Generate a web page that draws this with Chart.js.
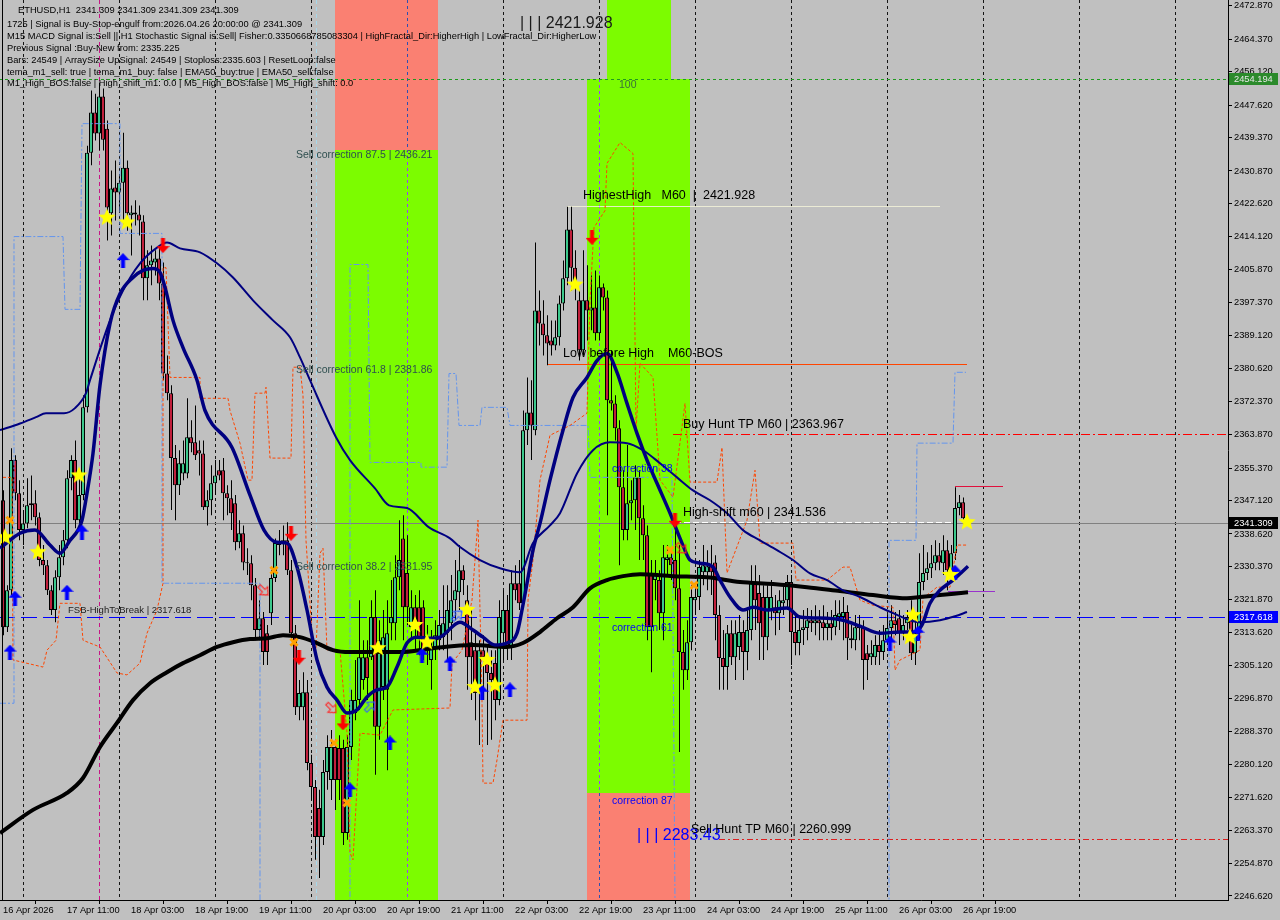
<!DOCTYPE html>
<html lang="en">
<head>
<meta charset="UTF-8">
<title>ETHUSD,H1</title>
<script src="https://cdn.jsdelivr.net/npm/chart.js"></script>
<style>
  html, body { margin: 0; padding: 0; background: #c0c0c0; }
  #wrap { width: 1280px; height: 920px; }
</style>
</head>
<body>
<div id="wrap"><canvas id="chart" width="1280" height="920"></canvas></div>
<script>
// ---------- axis labels ----------
const tickBars = [0, 16, 32, 48, 64, 80, 96, 112, 128, 144, 160, 176, 192, 208, 224, 240];
const tickLabels = ['16 Apr 2026', '17 Apr 11:00', '18 Apr 03:00', '18 Apr 19:00', '19 Apr 11:00',
  '20 Apr 03:00', '20 Apr 19:00', '21 Apr 11:00', '22 Apr 03:00', '22 Apr 19:00', '23 Apr 11:00',
  '24 Apr 03:00', '24 Apr 19:00', '25 Apr 11:00', '26 Apr 03:00', '26 Apr 19:00'];
const priceTicks = [2246.62, 2254.87, 2263.37, 2271.62, 2280.12, 2288.37, 2296.87, 2305.12, 2313.62,
  2321.87, 2330.37, 2338.62, 2347.12, 2355.37, 2363.87, 2372.37, 2380.62, 2389.12, 2397.37, 2405.87,
  2414.12, 2422.62, 2430.87, 2439.37, 2447.62, 2456.12, 2464.37, 2472.87];
const daySeparators = [5, 29, 53, 77, 101, 125, 149, 173, 197, 221, 245, 269, 293];

// ---------- candles (H1 bars, 16 Apr 19:00 -> 26 Apr 20:00) ----------
const opens = [
  2347.2, 2314.9, 2324.3, 2357.4, 2349.0, 2339.6, 2341.3, 2345.9, 2346.4, 2342.9,
  2332.0, 2330.7, 2324.3, 2319.3, 2327.6, 2332.7, 2337.0, 2352.8, 2357.4, 2342.1,
  2348.5, 2370.8, 2435.5, 2445.7, 2440.4, 2449.8, 2441.6, 2420.1, 2426.7, 2425.4,
  2427.9, 2431.7, 2419.6, 2419.8, 2419.8, 2418.0, 2403.6, 2406.9, 2407.6, 2408.6,
  2402.3, 2379.4, 2374.4, 2357.9, 2351.0, 2354.0, 2354.0, 2363.2, 2361.9, 2359.9,
  2359.1, 2345.4, 2347.2, 2351.5, 2354.8, 2354.8, 2349.0, 2347.7, 2346.4, 2336.5,
  2338.8, 2331.4, 2331.2, 2325.6, 2314.2, 2317.2, 2313.4, 2318.5, 2327.4, 2335.8,
  2336.5, 2337.0, 2329.4, 2313.4, 2294.6, 2294.6, 2298.4, 2280.4, 2274.3, 2269.0,
  2261.6, 2278.1, 2276.1, 2284.5, 2284.2, 2284.2, 2262.6, 2284.5, 2293.1, 2296.4,
  2301.5, 2307.3, 2307.3, 2317.5, 2289.6, 2299.7, 2299.0, 2315.9, 2315.9, 2327.6,
  2337.5, 2328.7, 2314.9, 2320.0, 2320.0, 2320.0, 2309.1, 2306.6, 2309.9, 2311.6,
  2312.4, 2313.4, 2315.9, 2321.8, 2323.8, 2329.4, 2321.8, 2311.1, 2309.1, 2299.7,
  2309.1, 2306.6, 2303.3, 2305.8, 2296.4, 2313.4, 2319.3, 2309.9, 2326.1, 2326.1,
  2321.0, 2365.0, 2369.5, 2365.0, 2395.4, 2392.1, 2389.1, 2387.8, 2386.5, 2388.6,
  2397.2, 2403.6, 2416.0, 2406.3, 2398.0, 2385.3, 2398.0, 2395.4, 2396.2, 2389.6,
  2401.3, 2398.7, 2372.6, 2371.8, 2365.5, 2350.5, 2339.6, 2346.4, 2347.2, 2353.0,
  2342.6, 2338.3, 2328.7, 2326.9, 2326.9, 2318.5, 2332.0, 2332.7, 2332.0, 2324.8,
  2308.6, 2304.0, 2311.1, 2321.8, 2322.6, 2328.9, 2328.9, 2330.7, 2331.4, 2318.0,
  2307.1, 2304.8, 2313.4, 2307.3, 2309.9, 2313.7, 2308.6, 2314.2, 2326.4, 2323.6,
  2322.6, 2312.4, 2319.3, 2320.0, 2318.5, 2321.0, 2321.8, 2326.4, 2313.7, 2310.9,
  2314.2, 2314.7, 2316.7, 2315.9, 2316.7, 2316.2, 2314.7, 2315.9, 2314.9, 2317.5,
  2317.5, 2318.8, 2312.1, 2311.6, 2314.7, 2314.7, 2308.3, 2307.3, 2307.3, 2310.4,
  2308.6, 2311.6, 2314.7, 2316.7, 2317.2, 2313.4, 2315.9, 2317.2, 2308.3, 2313.4,
  2326.4, 2328.7, 2329.9, 2331.2, 2333.2, 2331.2, 2334.5, 2329.4, 2333.7, 2345.2,
  2346.7, 2341.309];
const highs = [
  2349.7, 2325.6, 2360.4, 2358.6, 2352.3, 2344.7, 2352.8, 2353.5, 2349.7, 2344.1,
  2335.8, 2332.0, 2325.6, 2329.4, 2335.8, 2339.6, 2354.8, 2358.6, 2362.4, 2354.8,
  2373.9, 2437.3, 2451.3, 2450.5, 2453.3, 2451.8, 2443.7, 2431.0, 2433.5, 2429.7,
  2440.6, 2433.5, 2422.1, 2423.4, 2422.1, 2419.6, 2410.7, 2411.9, 2410.7, 2411.9,
  2407.6, 2384.0, 2376.4, 2361.2, 2359.9, 2362.4, 2373.1, 2367.5, 2371.3, 2362.4,
  2362.4, 2349.7, 2356.1, 2357.4, 2357.4, 2357.9, 2351.0, 2352.3, 2348.5, 2342.1,
  2340.8, 2335.0, 2333.2, 2327.4, 2321.8, 2318.8, 2315.5, 2329.4, 2337.5, 2339.6,
  2340.8, 2341.6, 2332.0, 2315.5, 2301.5, 2303.5, 2301.5, 2282.5, 2276.1, 2273.6,
  2281.2, 2287.5, 2288.8, 2286.3, 2287.5, 2286.3, 2287.5, 2299.0, 2306.6, 2321.8,
  2311.6, 2311.6, 2321.8, 2324.3, 2316.7, 2319.3, 2321.8, 2326.9, 2333.2, 2342.1,
  2343.4, 2338.3, 2324.3, 2323.1, 2324.3, 2321.8, 2315.5, 2314.2, 2316.7, 2319.3,
  2325.6, 2325.6, 2328.2, 2332.0, 2335.8, 2330.7, 2325.6, 2319.3, 2314.2, 2311.6,
  2312.9, 2310.4, 2309.1, 2309.1, 2321.8, 2324.3, 2323.1, 2329.4, 2330.7, 2332.0,
  2370.0, 2378.4, 2377.7, 2412.7, 2400.5, 2398.0, 2394.2, 2392.9, 2392.9, 2399.2,
  2408.1, 2421.8, 2421.8, 2410.7, 2400.5, 2410.7, 2406.9, 2404.3, 2405.6, 2404.3,
  2402.3, 2400.5, 2385.3, 2373.9, 2367.5, 2354.8, 2361.2, 2352.3, 2356.1, 2354.8,
  2345.9, 2340.8, 2332.0, 2332.0, 2329.4, 2335.8, 2335.8, 2334.5, 2342.1, 2335.8,
  2314.2, 2316.7, 2325.6, 2325.6, 2332.0, 2335.8, 2334.5, 2335.8, 2333.2, 2320.5,
  2314.2, 2315.5, 2316.7, 2316.7, 2318.0, 2316.7, 2319.3, 2330.7, 2330.7, 2328.2,
  2325.6, 2325.6, 2326.9, 2323.1, 2324.3, 2325.6, 2328.2, 2328.2, 2318.0, 2318.0,
  2319.3, 2319.8, 2319.3, 2320.5, 2319.3, 2320.5, 2318.8, 2319.3, 2321.8, 2321.8,
  2322.6, 2320.5, 2315.5, 2318.0, 2318.0, 2316.7, 2310.4, 2311.6, 2312.9, 2314.2,
  2315.5, 2318.0, 2320.5, 2318.8, 2319.3, 2318.0, 2319.3, 2321.8, 2316.7, 2333.7,
  2335.8, 2334.0, 2335.8, 2337.0, 2336.3, 2338.3, 2337.0, 2335.8, 2350.5, 2348.5,
  2347.9, 2341.309];
const lows = [
  2312.9, 2313.7, 2323.1, 2347.2, 2337.0, 2335.8, 2340.1, 2342.1, 2340.8, 2330.4,
  2328.2, 2323.1, 2318.0, 2316.2, 2324.3, 2330.7, 2335.0, 2349.7, 2340.1, 2339.6,
  2347.2, 2369.5, 2432.3, 2438.6, 2436.1, 2436.1, 2413.2, 2414.5, 2418.3, 2420.8,
  2417.0, 2415.7, 2409.4, 2417.0, 2414.5, 2398.0, 2398.0, 2401.8, 2404.3, 2398.0,
  2377.7, 2372.6, 2344.7, 2342.1, 2348.5, 2352.3, 2352.8, 2359.4, 2357.4, 2353.5,
  2344.7, 2340.8, 2343.4, 2348.5, 2352.3, 2342.1, 2343.4, 2339.6, 2334.5, 2335.0,
  2329.4, 2328.2, 2321.8, 2311.6, 2311.6, 2305.3, 2305.3, 2315.5, 2326.4, 2333.2,
  2333.2, 2328.2, 2311.6, 2292.6, 2291.3, 2291.3, 2278.6, 2271.0, 2255.8, 2251.2,
  2259.6, 2273.6, 2271.0, 2268.5, 2271.0, 2259.6, 2260.9, 2281.2, 2291.3, 2293.9,
  2299.0, 2296.4, 2306.6, 2277.4, 2286.3, 2296.4, 2278.6, 2311.6, 2311.6, 2324.3,
  2311.6, 2315.5, 2311.6, 2309.1, 2307.8, 2306.6, 2305.3, 2299.0, 2306.6, 2309.1,
  2309.1, 2306.6, 2311.6, 2316.7, 2319.3, 2323.1, 2299.0, 2296.4, 2291.3, 2285.0,
  2296.4, 2285.0, 2286.3, 2291.3, 2295.1, 2306.6, 2306.6, 2306.6, 2321.8, 2319.3,
  2320.5, 2361.2, 2357.4, 2363.7, 2386.5, 2384.0, 2381.5, 2384.0, 2385.3, 2386.5,
  2395.4, 2401.8, 2400.5, 2398.0, 2382.7, 2384.0, 2387.8, 2390.4, 2387.8, 2387.8,
  2395.4, 2343.4, 2370.0, 2362.4, 2330.7, 2337.0, 2337.0, 2342.1, 2339.6, 2332.0,
  2332.0, 2311.6, 2303.5, 2321.8, 2314.2, 2311.6, 2328.2, 2326.9, 2321.8, 2283.2,
  2299.0, 2301.5, 2309.1, 2318.0, 2319.3, 2325.6, 2324.3, 2323.1, 2311.6, 2299.0,
  2299.0, 2299.0, 2305.3, 2301.5, 2306.6, 2301.5, 2304.0, 2311.6, 2314.2, 2306.6,
  2306.6, 2309.1, 2316.7, 2312.9, 2314.2, 2318.0, 2319.3, 2305.3, 2307.8, 2307.8,
  2310.4, 2311.6, 2313.7, 2312.9, 2311.6, 2311.6, 2311.6, 2311.6, 2312.9, 2314.2,
  2311.6, 2306.6, 2309.6, 2309.1, 2311.6, 2299.0, 2301.5, 2305.3, 2305.3, 2305.3,
  2306.6, 2310.4, 2311.6, 2312.9, 2310.4, 2311.6, 2314.2, 2306.6, 2305.3, 2311.6,
  2324.3, 2326.9, 2327.4, 2329.4, 2329.4, 2328.2, 2324.3, 2328.2, 2332.0, 2343.4,
  2340.8, 2341.309];
const closes = [
  2314.9, 2324.3, 2357.4, 2349.0, 2339.6, 2341.3, 2345.9, 2346.4, 2342.9, 2332.0,
  2330.7, 2324.3, 2319.3, 2327.6, 2332.7, 2337.0, 2352.8, 2357.4, 2342.1, 2348.5,
  2370.8, 2435.5, 2445.7, 2440.4, 2449.8, 2438.8, 2421.6, 2426.4, 2425.4, 2427.9,
  2431.7, 2420.1, 2420.3, 2420.3, 2418.3, 2403.6, 2406.9, 2408.1, 2408.6, 2402.3,
  2379.4, 2374.4, 2357.9, 2351.0, 2356.6, 2356.6, 2363.2, 2361.7, 2358.6, 2359.1,
  2345.4, 2347.2, 2351.5, 2353.5, 2353.5, 2349.0, 2347.7, 2343.9, 2336.5, 2338.8,
  2331.4, 2331.2, 2325.6, 2314.2, 2317.2, 2308.6, 2308.6, 2327.4, 2336.3, 2336.5,
  2337.0, 2329.4, 2313.4, 2294.6, 2298.2, 2298.4, 2280.4, 2274.3, 2261.6, 2261.6,
  2278.1, 2284.5, 2284.5, 2276.1, 2276.1, 2262.6, 2284.5, 2296.4, 2296.4, 2307.3,
  2307.3, 2302.0, 2317.5, 2289.6, 2311.6, 2312.4, 2313.4, 2317.5, 2327.6, 2332.0,
  2320.0, 2320.0, 2320.0, 2314.9, 2312.4, 2309.1, 2311.6, 2309.9, 2312.9, 2315.5,
  2315.9, 2319.3, 2321.8, 2324.3, 2329.4, 2326.9, 2307.3, 2307.3, 2298.2, 2309.1,
  2307.3, 2303.3, 2301.5, 2296.4, 2317.5, 2319.3, 2309.9, 2326.1, 2324.3, 2321.0,
  2365.0, 2369.5, 2366.2, 2395.4, 2392.1, 2389.1, 2387.0, 2386.5, 2388.6, 2397.2,
  2403.6, 2416.0, 2406.3, 2401.8, 2385.3, 2398.0, 2395.4, 2396.2, 2389.6, 2401.3,
  2398.7, 2372.6, 2371.8, 2365.5, 2350.5, 2339.6, 2346.4, 2347.2, 2353.0, 2342.6,
  2338.3, 2314.9, 2314.9, 2328.7, 2318.5, 2332.7, 2332.7, 2330.7, 2324.8, 2308.6,
  2304.0, 2311.1, 2322.6, 2322.6, 2330.2, 2330.7, 2330.4, 2328.9, 2318.0, 2307.1,
  2304.8, 2313.4, 2307.3, 2313.4, 2313.7, 2308.6, 2314.2, 2326.4, 2321.8, 2315.9,
  2312.4, 2322.6, 2322.6, 2318.5, 2321.8, 2321.8, 2326.4, 2313.7, 2310.9, 2314.2,
  2314.9, 2316.7, 2315.9, 2316.7, 2315.9, 2314.7, 2315.9, 2314.7, 2318.0, 2318.5,
  2318.8, 2312.1, 2311.6, 2314.9, 2314.9, 2306.6, 2306.6, 2308.3, 2310.4, 2308.6,
  2311.6, 2314.7, 2316.7, 2315.5, 2313.4, 2315.5, 2317.5, 2308.3, 2313.4, 2326.4,
  2328.7, 2329.9, 2331.2, 2333.2, 2331.4, 2334.5, 2329.4, 2333.7, 2345.2, 2346.7,
  2342.6, 2341.309];

// ---------- indicator lines (bar index / price) ----------
const fastBars = [-0.75, 1.75, 4.25, 8, 11.75, 14.25, 16.75, 18.75, 19.75, 21, 22.5, 24.25, 26.75, 29.25, 32.5, 35, 37.5, 39.25, 40.5, 42.5, 45, 48.5, 50.5, 57.25, 61.75, 65.25, 68.5, 71, 73.5, 76, 78.5, 81, 83.5, 86, 88.5, 91, 93.5, 96, 98.5, 101, 103.5, 106.75, 109.25, 114.25, 117.5, 120, 123, 126, 128.5, 129.75, 131, 132.5, 134.25, 136.75, 140, 142.5, 146, 148.5, 151, 153.5, 156, 158.5, 161, 163.5, 166.75, 169.75, 171.75, 174.25, 177.5, 179.25, 181.75, 185, 187.5, 191, 196, 199.25, 206, 210, 214.25, 219.25, 224.25, 228, 229.75, 231.75, 234.25, 237.5, 241.25];
const fastVals = [2335.0, 2337.0, 2338.8, 2339.6, 2335.8, 2333.7, 2337.0, 2339.6, 2342.1, 2349.0, 2359.1, 2376.4, 2392.1, 2399.7, 2403.8, 2405.6, 2406.1, 2405.1, 2401.3, 2392.9, 2386.0, 2377.7, 2370.0, 2360.6, 2348.5, 2339.6, 2336.5, 2336.3, 2330.2, 2319.3, 2306.6, 2299.7, 2296.4, 2293.1, 2293.9, 2297.2, 2299.0, 2299.7, 2304.8, 2310.9, 2312.4, 2312.1, 2312.4, 2316.2, 2314.2, 2312.4, 2310.4, 2310.9, 2313.4, 2319.3, 2326.1, 2334.5, 2341.3, 2352.3, 2365.0, 2373.3, 2378.4, 2382.7, 2384.5, 2379.7, 2371.8, 2364.2, 2357.4, 2351.5, 2343.9, 2336.3, 2332.0, 2331.2, 2330.2, 2326.9, 2322.6, 2319.3, 2320.0, 2319.3, 2319.8, 2317.5, 2317.2, 2316.7, 2315.2, 2313.4, 2313.7, 2313.7, 2315.5, 2321.0, 2324.3, 2326.9, 2330.4];
const midBars = [-0.75, 4.25, 8.25, 10.75, 15.25, 18, 20.75, 21.75, 26.75, 30, 34.25, 38.5, 41, 44.25, 49.25, 53.5, 57.5, 62.5, 67.5, 71.75, 74.25, 76.75, 83.25, 86.75, 93, 96.5, 101, 106.5, 111.75, 114.25, 119.25, 124.25, 129.25, 132.5, 136.75, 139.25, 143.5, 147.5, 151.75, 156, 160, 164.25, 168.5, 172.5, 176.75, 181, 185, 189.25, 193.5, 197.5, 201.75, 206, 210, 214.25, 219.25, 222.5, 226.75, 229.25, 234.25, 238, 241];
const midVals = [2365.0, 2366.7, 2368.3, 2369.3, 2369.3, 2370.6, 2374.4, 2377.7, 2392.9, 2400.5, 2407.4, 2411.4, 2412.7, 2411.2, 2410.2, 2407.4, 2403.8, 2398.0, 2392.9, 2388.6, 2383.5, 2377.7, 2363.2, 2357.4, 2350.2, 2345.9, 2345.2, 2340.3, 2337.5, 2335.3, 2332.0, 2329.9, 2328.9, 2336.3, 2340.8, 2343.9, 2354.0, 2359.9, 2361.9, 2361.7, 2359.9, 2356.6, 2353.0, 2349.7, 2347.2, 2343.9, 2339.6, 2337.0, 2334.5, 2332.0, 2328.6, 2326.9, 2324.3, 2322.6, 2320.0, 2318.5, 2316.7, 2316.2, 2316.7, 2317.7, 2318.8];
const slowBars = [-0.75, 7.5, 16, 20, 24.25, 28.5, 32.5, 36.75, 41, 45, 49.25, 53.5, 57.5, 61.75, 66, 70, 74.25, 78.5, 82.5, 86.75, 99.25, 107.5, 117.5, 126, 130, 134.25, 138.5, 142.5, 146.75, 151, 155, 159.25, 167.5, 176, 184.25, 192.5, 201, 209.25, 217.5, 226, 229.25, 234.25, 241.25];
const slowVals = [2262.6, 2268.5, 2272.8, 2276.6, 2284.5, 2290.6, 2296.4, 2300.7, 2303.5, 2305.8, 2307.8, 2309.9, 2311.1, 2311.9, 2312.1, 2312.9, 2312.4, 2310.9, 2309.1, 2308.6, 2308.6, 2309.6, 2310.4, 2309.9, 2310.9, 2313.7, 2317.2, 2320.0, 2324.8, 2326.9, 2327.9, 2328.4, 2327.9, 2327.6, 2326.4, 2325.9, 2325.1, 2324.1, 2323.1, 2322.3, 2322.6, 2323.1, 2323.8];
const redTrailBars = [0, 2.25, 2.5, 10, 11, 13.25, 14.25, 19.25, 20, 24.25, 28.5, 31, 34.25, 36, 38.5, 40, 40, 40.75, 41.75, 49.25, 49.25, 56.25, 56.75, 59.25, 61.25, 62.25, 63, 65.5, 65.75, 66.75, 72, 72.5, 74.25, 75, 75.75, 77.5, 78.25, 79.25, 80, 81, 84.25, 86, 86.75, 87.5, 89.25, 94.25, 97.5, 111.75, 112.25, 114.75, 117.25, 118.75, 119.75, 120, 122.5, 123.5, 125, 131, 131.25, 132.5, 134.25, 136.75, 141.75, 146, 146.75, 147.75, 150.5, 151, 154.25, 157.5, 158.25, 159.25, 162.5, 164.25, 167.5, 170.5, 171.75, 178.5, 179.75, 181, 186, 188, 189.25, 197.5, 198.25, 206, 210, 211.75, 214.25, 217.5, 222.5, 223, 224.25, 229.25, 230, 233.5, 236.75, 238.5, 241];
const redTrailVals = [2353.0, 2353.0, 2306.6, 2304.8, 2309.1, 2311.6, 2321.0, 2321.0, 2311.6, 2309.9, 2303.3, 2302.8, 2305.8, 2313.4, 2319.3, 2326.1, 2406.3, 2406.3, 2378.4, 2378.4, 2373.1, 2373.1, 2370.0, 2361.7, 2352.3, 2352.3, 2374.4, 2374.4, 2375.9, 2357.9, 2357.9, 2381.0, 2381.0, 2373.9, 2337.0, 2309.1, 2309.1, 2333.7, 2335.0, 2309.1, 2309.1, 2288.0, 2257.6, 2255.8, 2288.0, 2287.5, 2293.9, 2294.4, 2305.8, 2309.1, 2321.8, 2342.1, 2296.4, 2275.3, 2275.3, 2281.2, 2291.3, 2291.3, 2321.8, 2332.0, 2352.3, 2363.7, 2366.2, 2369.3, 2398.0, 2416.5, 2420.8, 2432.8, 2438.1, 2435.3, 2365.0, 2382.0, 2378.4, 2352.3, 2348.0, 2371.8, 2351.8, 2351.8, 2360.6, 2328.7, 2342.1, 2354.8, 2336.3, 2336.3, 2326.9, 2326.9, 2330.2, 2330.2, 2321.8, 2320.5, 2320.0, 2304.0, 2306.6, 2309.1, 2322.3, 2325.1, 2325.1, 2335.8, 2335.8];
const blueTrailBars = [-0.75, 2.75, 2.75, 15, 15.5, 19.25, 19.75, 29.25, 29.25, 39.75, 39.75, 64.25, 64.25, 86.75, 86.75, 91.25, 91.75, 104.5, 104.5, 111, 111.5, 113.25, 114, 119.25, 119.75, 126, 126.75, 146.25, 146.75, 167.25, 168, 221.5, 221.5, 228.25, 228.5, 237.5, 238, 240.75];
const blueTrailVals = [2295.6, 2295.6, 2414.2, 2414.2, 2395.7, 2395.7, 2442.9, 2442.9, 2415.0, 2415.0, 2326.1, 2326.1, 2244.4, 2244.4, 2407.1, 2407.1, 2356.8, 2356.8, 2355.6, 2355.6, 2379.4, 2379.4, 2366.2, 2366.2, 2370.8, 2370.8, 2366.2, 2366.2, 2353.0, 2353.0, 2244.4, 2244.4, 2337.0, 2337.0, 2361.7, 2361.7, 2379.7, 2379.7];

// ---------- signal marks ----------
const starBars = [0.5, 8.75, 19, 26, 31, 93.75, 103, 106, 116, 118, 121, 123, 143, 227.5, 226.75, 236.75, 241];
const starVals = [2337.8, 2334.0, 2353.5, 2419.0, 2417.8, 2309.6, 2315.5, 2311.1, 2319.3, 2299.7, 2306.6, 2300.2, 2402.0, 2318.0, 2312.4, 2328.2, 2341.6];
const upBars = [3, 1.75, 16, 19.75, 30, 86.75, 96.75, 104.75, 111.75, 119.75, 126.75, 221.75, 228.75, 238];
const upVals = [2322.3, 2308.6, 2323.8, 2339.1, 2408.1, 2273.6, 2285.5, 2307.8, 2305.8, 2298.4, 2299.0, 2310.9, 2313.4, 2328.9];
const downBars = [40, 72, 74, 85, 147.25, 168];
const downVals = [2411.9, 2338.8, 2307.3, 2290.6, 2414.0, 2342.1];
const crossBars = [1.75, 67.75, 72.75, 82.75, 86, 166.75, 172.75];
const crossVals = [2342.1, 2329.4, 2311.1, 2285.5, 2270.3, 2334.5, 2325.6];
const hollowSellBars = [64.75, 81.75, 169.25];
const hollowSellVals = [2324.3, 2294.4, 2335.0];
const hollowBuyBars = [91.75, 113.5];
const hollowBuyVals = [2294.4, 2317.5];

// ---------- levels ----------
const bidPrice = 2341.309;
const fsbPrice = 2317.618;
const topLevel = 2454.194;
const buyHunt = 2363.967;
const sellHunt = 2260.999;
const highestHigh = 2421.928;
const highShift = 2341.536;
const lowBeforeHigh = 2381.9;
const sellCorr875 = 2436.21;
const corrFloor = 2272.8;

const SILVER = '#c0c0c0', GREEN = '#7cfc00', SALMON = '#fa8072';
const boxes = [
  { from: 83, to: 108.75, lo: sellCorr875, hi: null, color: SALMON, sep: '#2f4fb0' },
  { from: 83, to: 108.75, lo: null, hi: sellCorr875, color: GREEN, sep: '#9b3bff' },
  { from: 151, to: 167, lo: topLevel, hi: null, color: GREEN, sep: '#9b3bff' },
  { from: 146, to: 171.75, lo: corrFloor, hi: topLevel, color: GREEN, sep: '#9b3bff' },
  { from: 146, to: 171.75, lo: null, hi: corrFloor, color: SALMON, sep: '#2f4fb0' }
];
const vMarks = [
  { bar: 24, color: '#c71585', dash: [4, 3] },
  { bar: 78.25, color: '#a8d8ea', dash: [4, 3] }
];
const hLines = [
  { price: topLevel, from: -1, to: 307, color: '#1f9a1f', dash: [3, 3] },
  { price: bidPrice, from: -1, to: 307, color: '#808080', dash: [] },
  { price: fsbPrice, from: -1, to: 307, color: '#0000ff', dash: [16, 6] },
  { price: buyHunt, from: 167.5, to: 307, color: '#ff0000', dash: [9, 3, 2, 3] },
  { price: sellHunt, from: 179, to: 307, color: '#dd2020', dash: [6, 3, 2, 3] },
  { price: highestHigh, from: 141, to: 234.25, color: 'rgba(240,240,215,0.9)', dash: [] },
  { price: lowBeforeHigh, from: 136, to: 241, color: '#ff4500', dash: [] },
  { price: highShift, from: 168, to: 238.5, color: '#ffffff', dash: [6, 3] },
  { price: 2350.7, from: 238, to: 250, color: '#e0103c', dash: [] },
  { price: 2324.1, from: 236.25, to: 248, color: '#9932cc', dash: [] }
];
const notes = [
  { t: 'Sell correction 87.5 | 2436.21', bar: 73.25, price: 2434.8, c: '#2f4f4f', s: 10.5 },
  { t: 'Sell correction 61.8 | 2381.86', bar: 73.25, price: 2380.2, c: '#2f4f4f', s: 10.5 },
  { t: 'Sell correction 38.2 | 2331.95', bar: 73.25, price: 2330.2, c: '#2f4f4f', s: 10.5 },
  { t: 'correction 38', bar: 152.25, price: 2355.1, c: '#0000ff', s: 10.5 },
  { t: 'correction 61', bar: 152.25, price: 2314.7, c: '#0000ff', s: 10.5 },
  { t: 'correction 87', bar: 152.25, price: 2270.8, c: '#0000ff', s: 10.5 },
  { t: '| | | 2283.43', bar: 158.5, price: 2261.9, c: '#0000ff', s: 16 },
  { t: '| | | 2421.928', bar: 129.25, price: 2468.3, c: '#1a1a1a', s: 16 },
  { t: '100', bar: 154, price: 2452.6, c: '#3a6e3a', s: 10.5 },
  { t: 'HighestHigh   M60  |  2421.928', bar: 145, price: 2424.6, c: '#000', s: 12.5 },
  { t: 'Low before High    M60-BOS', bar: 140, price: 2384.5, c: '#000', s: 12.5 },
  { t: 'Buy Hunt TP M60 | 2363.967', bar: 170, price: 2366.5, c: '#000', s: 12.5 },
  { t: 'High-shift m60 | 2341.536', bar: 170, price: 2344.1, c: '#000', s: 12.5 },
  { t: 'Sell Hunt TP M60 | 2260.999', bar: 172, price: 2263.6, c: '#000', s: 12.5 },
  { t: 'FSB-HighToBreak | 2317.618', bar: 16.25, price: 2319.3, c: '#222', s: 9.5 }
];
const infoLines = [
  'ETHUSD,H1  2341.309 2341.309 2341.309 2341.309',
  '1725 | Signal is Buy-Stop-engulf from:2026.04.26 20:00:00 @ 2341.309',
  'M15 MACD Signal is:Sell || H1 Stochastic Signal is:Sell| Fisher:0.3350668785083304 | HighFractal_Dir:HigherHigh | LowFractal_Dir:HigherLow',
  'Previous Signal :Buy-New from: 2335.225',
  'Bars: 24549 | ArraySize UpSignal: 24549 | Stoploss:2335.603 | ResetLoop:false',
  'tema_m1_sell: true | tema_m1_buy: false | EMA50_buy:true | EMA50_sell:false',
  'M1_High_BOS:false | High_shift_m1: 0.0 | M5_High_BOS:false | M5_High_shift: 0.0'
];
const axisTags = [
  { price: topLevel, bg: '#2b8a2b', fg: '#e6e6e6' },
  { price: bidPrice, bg: '#000000', fg: '#ffffff' },
  { price: fsbPrice, bg: '#0000ff', fg: '#ffffff' }
];

const FONT = '"Liberation Sans", Arial, sans-serif';
Chart.defaults.font.family = FONT;

// ---------- marker glyphs ----------
function makeStar(r1, r2, color) {
  const c = document.createElement('canvas');
  c.width = c.height = 2 * r1 + 2;
  const g = c.getContext('2d');
  g.translate(r1 + 1, r1 + 1);
  g.beginPath();
  for (let k = 0; k < 10; k++) {
    const r = k % 2 ? r2 : r1;
    const a = -Math.PI / 2 + k * Math.PI / 5;
    g.lineTo(r * Math.cos(a), r * Math.sin(a));
  }
  g.closePath();
  g.fillStyle = color;
  g.fill();
  return c;
}
function arrowPath(g) {
  g.beginPath();
  g.moveTo(6.5, 0); g.lineTo(13, 7); g.lineTo(8.5, 7); g.lineTo(8.5, 15);
  g.lineTo(4.5, 15); g.lineTo(4.5, 7); g.lineTo(0, 7);
  g.closePath();
}
function makeArrow(color, up) {
  const c = document.createElement('canvas');
  c.width = 13; c.height = 15;
  const g = c.getContext('2d');
  if (!up) { g.translate(0, 15); g.scale(1, -1); }
  arrowPath(g);
  g.fillStyle = color;
  g.fill();
  return c;
}
function makeHollowArrow(color) {
  const c = document.createElement('canvas');
  c.width = 15; c.height = 17;
  const g = c.getContext('2d');
  g.translate(1, 1);
  g.scale(0.85, 0.85);
  arrowPath(g);
  g.strokeStyle = color;
  g.lineWidth = 1.3;
  g.stroke();
  return c;
}
const starImg = makeStar(9, 4, '#ffff00');
const upImg = makeArrow('#0000ff', true);
const downImg = makeArrow('#ff0000', false);
const hollowRed = makeHollowArrow('#ff2020');
const hollowBlue = makeHollowArrow('#3060ff');

const pairs = (bars, vals) => bars.map((b, k) => ({ x: b, y: vals[k] }));

// ---------- candles ----------
const wickData = highs.map((h, i) => ({ x: i + 0.125, y: [lows[i], h] }));
const bodyData = opens.map((o, i) => {
  let lo = Math.min(o, closes[i]), hi = Math.max(o, closes[i]);
  if (hi - lo < 0.3) { const m = (hi + lo) / 2; lo = m - 0.15; hi = m + 0.15; }
  return { x: i, y: [lo, hi] };
});
const bodyColors = opens.map((o, i) => closes[i] >= o ? '#3cc88c' : '#c0203c');

// ---------- drawing helpers ----------
function vDash(ctx, x, y0, y1, color, dash) {
  ctx.save();
  ctx.strokeStyle = color; ctx.lineWidth = 1; ctx.setLineDash(dash);
  ctx.beginPath(); ctx.moveTo(x, y0); ctx.lineTo(x, y1); ctx.stroke();
  ctx.restore();
}

const mtPlugin = {
  id: 'mt',
  beforeDraw(chart) {
    const ctx = chart.ctx;
    ctx.save();
    ctx.fillStyle = SILVER;
    ctx.fillRect(0, 0, chart.width, chart.height);
    ctx.restore();
  },
  beforeDatasetsDraw(chart) {
    const { ctx, chartArea: a, scales: { x: X, y: Y } } = chart;
    const top = a.top, bot = a.bottom;
    ctx.save();
    ctx.beginPath(); ctx.rect(a.left, a.top, a.right - a.left, a.bottom - a.top); ctx.clip();
    // zones
    boxes.forEach(b => {
      const x0 = X.getPixelForValue(b.from), x1 = X.getPixelForValue(b.to);
      const y0 = b.hi === null ? top : Y.getPixelForValue(b.hi);
      const y1 = b.lo === null ? bot : Y.getPixelForValue(b.lo);
      ctx.fillStyle = b.color;
      ctx.fillRect(Math.round(x0), Math.round(y0), Math.round(x1) - Math.round(x0), Math.round(y1) - Math.round(y0));
    });
    // period separators, recoloured where they cross a zone
    daySeparators.forEach(bar => {
      const x = Math.round(X.getPixelForValue(bar)) + 0.5;
      const cuts = [top, bot];
      const inside = boxes.filter(b => bar >= b.from && bar <= b.to);
      inside.forEach(b => {
        cuts.push(b.hi === null ? top : Y.getPixelForValue(b.hi));
        cuts.push(b.lo === null ? bot : Y.getPixelForValue(b.lo));
      });
      const ys = [...new Set(cuts.map(v => Math.round(v)))].sort((p, q) => p - q);
      for (let k = 0; k < ys.length - 1; k++) {
        const mid = (ys[k] + ys[k + 1]) / 2;
        let col = '#141414';
        inside.forEach(b => {
          const yA = b.hi === null ? top : Y.getPixelForValue(b.hi);
          const yB = b.lo === null ? bot : Y.getPixelForValue(b.lo);
          if (mid >= yA && mid <= yB) col = b.sep;
        });
        vDash(ctx, x, ys[k], ys[k + 1], col, [3, 3]);
      }
    });
    vMarks.forEach(m => {
      const x = Math.round(X.getPixelForValue(m.bar)) + 0.5;
      vDash(ctx, x, top, bot, m.color, m.dash);
    });
    // price levels
    hLines.forEach(l => {
      const y = Math.round(Y.getPixelForValue(l.price)) + 0.5;
      ctx.save();
      ctx.strokeStyle = l.color; ctx.lineWidth = 1; ctx.setLineDash(l.dash);
      ctx.beginPath();
      ctx.moveTo(X.getPixelForValue(l.from), y);
      ctx.lineTo(X.getPixelForValue(l.to), y);
      ctx.stroke();
      ctx.restore();
    });
    ctx.restore();
  },
  afterDatasetsDraw(chart) {
    const { ctx, chartArea: a, scales: { x: X, y: Y } } = chart;
    ctx.save();
    ctx.beginPath(); ctx.rect(a.left, a.top, a.right - a.left, a.bottom - a.top); ctx.clip();
    ctx.textBaseline = 'middle';
    ctx.textAlign = 'left';
    notes.forEach(n => {
      ctx.font = n.s + 'px ' + FONT;
      ctx.fillStyle = n.c;
      ctx.fillText(n.t, X.getPixelForValue(n.bar), Y.getPixelForValue(n.price));
    });
    ctx.font = '9.3px ' + FONT;
    ctx.fillStyle = '#000';
    const lineY = [10, 24, 36, 48, 60, 72, 83];
    infoLines.forEach((t, k) => ctx.fillText(t, k === 0 ? 18 : 7, lineY[k]));
    ctx.restore();
  },
  afterDraw(chart) {
    const { ctx, chartArea: a, scales: { y: Y } } = chart;
    ctx.save();
    ctx.strokeStyle = '#000'; ctx.lineWidth = 1;
    ctx.beginPath(); ctx.moveTo(2.5, a.top); ctx.lineTo(2.5, a.bottom); ctx.stroke();
    ctx.font = '9.3px ' + FONT;
    ctx.textBaseline = 'middle';
    axisTags.forEach(t => {
      const y = Math.round(Y.getPixelForValue(t.price));
      ctx.fillStyle = t.bg;
      ctx.fillRect(a.right + 1, y - 6, 49, 12);
      ctx.fillStyle = t.fg;
      ctx.fillText(t.price.toFixed(3), a.right + 6, y + 0.5);
    });
    ctx.restore();
  }
};

new Chart(document.getElementById('chart'), {
  type: 'bar',
  data: {
    datasets: [
      { type: 'line', data: pairs(starBars, starVals), showLine: false, pointStyle: starImg, pointRadius: 8, order: 0 },
      { type: 'line', data: pairs(upBars, upVals), showLine: false, pointStyle: upImg, pointRadius: 7, order: 0 },
      { type: 'line', data: pairs(downBars, downVals), showLine: false, pointStyle: downImg, pointRadius: 7, order: 0 },
      { type: 'line', data: pairs(hollowSellBars, hollowSellVals), showLine: false, pointStyle: hollowRed,
        pointRadius: 6, pointRotation: 135, order: 0 },
      { type: 'line', data: pairs(hollowBuyBars, hollowBuyVals), showLine: false, pointStyle: hollowBlue,
        pointRadius: 6, pointRotation: 45, order: 0 },
      { type: 'line', data: pairs(crossBars, crossVals), showLine: false, pointStyle: 'crossRot', pointRadius: 5,
        pointBorderWidth: 3, pointBorderColor: '#ffa000', order: 0 },
      { type: 'line', data: pairs(fastBars, fastVals), borderColor: '#000080', borderWidth: 3.5, pointRadius: 0,
        cubicInterpolationMode: 'monotone', order: 1 },
      { type: 'line', data: pairs(midBars, midVals), borderColor: '#000080', borderWidth: 2, pointRadius: 0,
        cubicInterpolationMode: 'monotone', order: 2 },
      { type: 'line', data: pairs(slowBars, slowVals), borderColor: '#000000', borderWidth: 4, pointRadius: 0,
        cubicInterpolationMode: 'monotone', order: 3 },
      { type: 'line', data: pairs(redTrailBars, redTrailVals), borderColor: '#ff4500', borderWidth: 1,
        borderDash: [3, 2], pointRadius: 0, tension: 0, order: 4 },
      { type: 'line', data: pairs(blueTrailBars, blueTrailVals), borderColor: '#6495ed', borderWidth: 1,
        borderDash: [6, 2, 2, 2], pointRadius: 0, tension: 0, order: 4 },
      { type: 'bar', data: bodyData, backgroundColor: bodyColors, borderColor: '#000', borderWidth: 1,
        borderSkipped: false, barThickness: 4, grouped: false, inflateAmount: 0, order: 5 },
      { type: 'bar', data: wickData, backgroundColor: '#000', borderWidth: 0, barThickness: 1,
        grouped: false, inflateAmount: 0, order: 6 }
    ]
  },
  options: {
    responsive: false,
    devicePixelRatio: 1,
    animation: false,
    events: [],
    layout: { padding: 0, autoPadding: false },
    plugins: { legend: { display: false }, tooltip: { enabled: false } },
    scales: {
      x: {
        type: 'linear', min: -0.75, max: 306.25, offset: false,
        afterBuildTicks: s => { s.ticks = tickBars.map(v => ({ value: v })); },
        afterFit: s => { s.height = 20; s.paddingLeft = 0; s.paddingRight = 0; },
        ticks: {
          autoSkip: false, maxRotation: 0, minRotation: 0, align: 'start', padding: 1,
          color: '#000', font: { size: 9.3 },
          callback: v => { const k = tickBars.indexOf(v); return k >= 0 ? tickLabels[k] : ''; }
        },
        grid: { drawOnChartArea: false, drawTicks: true, tickLength: 4, color: '#000' },
        border: { display: true, color: '#000', width: 1 }
      },
      y: {
        type: 'linear', position: 'right', min: 2245.60, max: 2474.32,
        afterBuildTicks: s => { s.ticks = priceTicks.map(v => ({ value: v })); },
        afterFit: s => { s.width = 52; s.paddingTop = 0; s.paddingBottom = 0; },
        ticks: { color: '#000', font: { size: 9.3 }, padding: 2, callback: v => v.toFixed(3) },
        grid: { drawOnChartArea: false, drawTicks: true, tickLength: 4, color: '#000' },
        border: { display: true, color: '#000', width: 1 }
      }
    }
  },
  plugins: [mtPlugin]
});
</script>
</body>
</html>
